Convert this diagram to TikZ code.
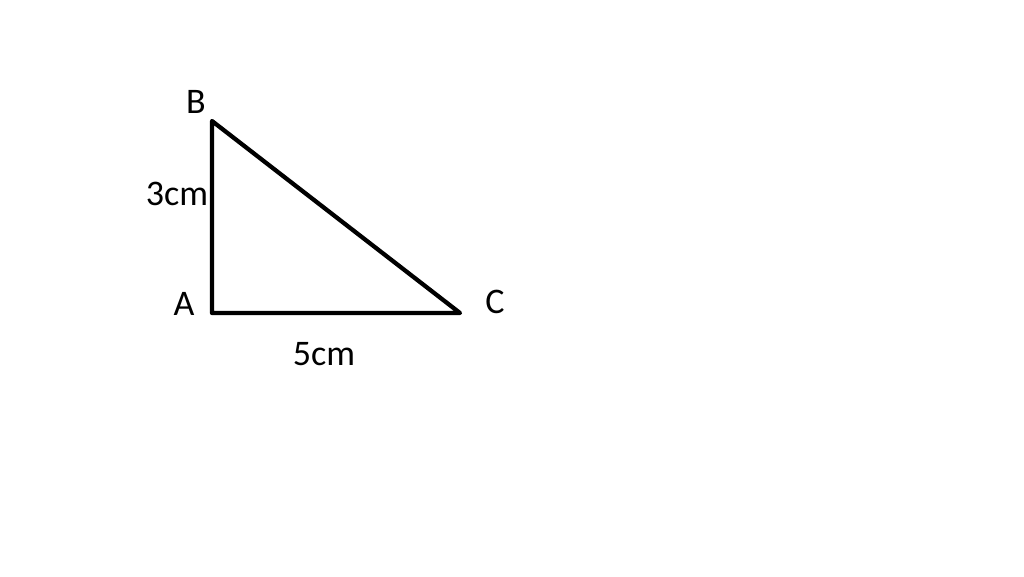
\documentclass[tikz,border=0pt]{standalone}
\usepackage{fontspec}
\setmainfont{Carlito}

\begin{document}
\begin{tikzpicture}[x=0.75pt,y=0.75pt,yscale=-1,xscale=1]
\useasboundingbox (0,0) rectangle (1024,576);

% Vertices
\coordinate (A) at (212,313);
\coordinate (B) at (212,121);
\coordinate (C) at (460,313);

%Shape: Triangle
\draw [line width=3.2pt, line join=round, line cap=round] (A) -- (B) -- (C) -- cycle ;

% Text Node
\node [font=\fontsize{27}{32}\selectfont] (labB) at (196,102) {B};
% Text Node
\node [font=\fontsize{27}{32}\selectfont] (labA) at (184,304) {A};
% Text Node
\node [font=\fontsize{27}{32}\selectfont] (labC) at (495,302) {C};
% Text Node
\node [font=\fontsize{27}{32}\selectfont] (labAB) at (177,194) {3cm};
% Text Node
\node [font=\fontsize{27}{32}\selectfont] (labAC) at (324,354) {5cm};

\end{tikzpicture}
\end{document}
